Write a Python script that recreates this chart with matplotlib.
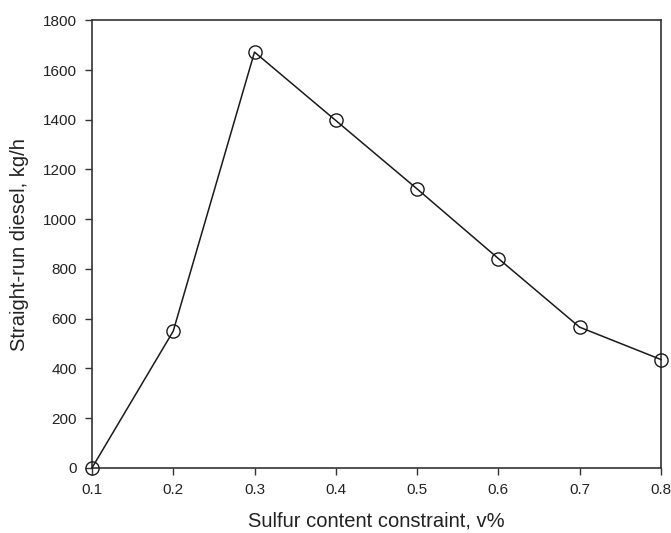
import matplotlib
matplotlib.use("Agg")
from matplotlib import pyplot as plt

# Sulfur content constraint vs straight-run diesel
sulfur = [0.1, 0.2, 0.3, 0.4, 0.5, 0.6, 0.7, 0.8]
diesel = [0, 550, 1672, 1397, 1122, 842, 566, 436]
xticks = [0.1, 0.2, 0.3, 0.4, 0.5, 0.6, 0.7, 0.8]
yticks = [0, 200, 400, 600, 800, 1000, 1200, 1400, 1600, 1800]

plt.rcParams["font.family"] = ["Liberation Sans", "DejaVu Sans"]

fig = plt.figure(figsize=(6.71, 5.33), dpi=100)
ax = fig.add_axes([0.137, 0.122, 0.848, 0.840])

ax.plot(sulfur, diesel, color="#1a1a1a", linewidth=1.1, marker="o",
        markersize=9.5, markerfacecolor="none", markeredgecolor="#1a1a1a",
        markeredgewidth=1.0, clip_on=False, zorder=3)

ax.set_xlim(0.1, 0.8)
ax.set_ylim(0, 1800)
ax.set_xticks(xticks)
ax.set_xticklabels(["%.1f" % v for v in xticks])
ax.set_yticks(yticks)
ax.tick_params(direction="out", length=5, width=1, colors="#333333",
               labelsize=11, labelcolor="#222222", pad=6)
for sp in ax.spines.values():
  sp.set_color("#333333")
  sp.set_linewidth(1.2)

ax.set_xlabel("Sulfur content constraint, v%", fontsize=14.5, color="#222222",
              labelpad=10)
ax.set_ylabel("Straight-run diesel, kg/h", fontsize=14.5, color="#222222",
              labelpad=10)

fig.savefig("out.png", dpi=100)
